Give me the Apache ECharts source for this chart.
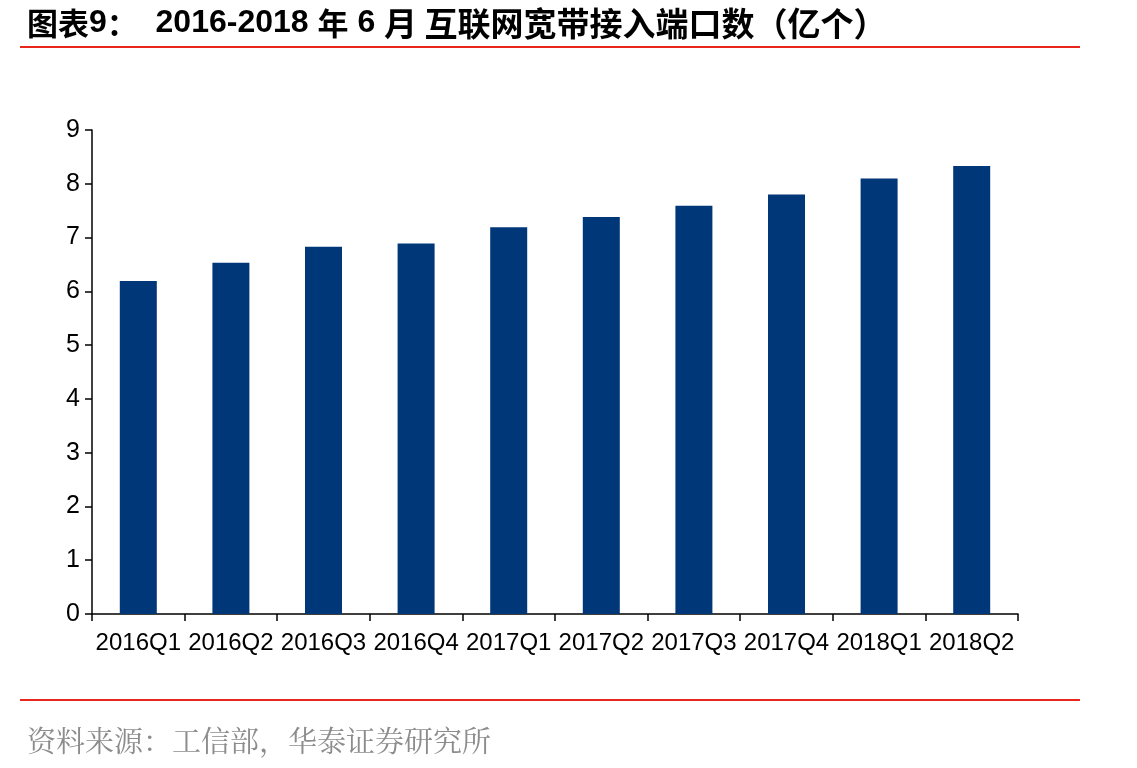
<!DOCTYPE html>
<html><head><meta charset="utf-8">
<script src="https://cdn.jsdelivr.net/npm/echarts@6/dist/echarts.min.js"></script>
<style>html,body{margin:0;padding:0;background:#fff}#c{width:1137px;height:768px}</style>
</head><body><div id="c"></div>
<script>
const categories = ['2016Q1','2016Q2','2016Q3','2016Q4','2017Q1','2017Q2','2017Q3','2017Q4','2018Q1','2018Q2'];
const ports = [6.19, 6.53, 6.83, 6.89, 7.19, 7.38, 7.59, 7.80, 8.10, 8.33];
const yTicks = [0, 9, 1]; // min, max, interval
const titleRich = '{c|图表}{d|9}{c|：}{d|  2016-2018 }{c|年}{d| 6 }{e|月 互联网宽带接入端口数（亿个）}';
const sourceText = '资料来源：工信部，华泰证券研究所';

const chart = echarts.init(document.getElementById('c'), null, {renderer:'canvas'});
chart.setOption({
  backgroundColor:'#fff',
  animation:false,
  title:[
    {text:titleRich, left:22, top:1, textStyle:{
      rich:{
        c:{fontFamily:'"Noto Sans CJK SC", sans-serif', fontWeight:'bold', fontSize:31, color:'#000', lineHeight:34},
        e:{fontFamily:'"Noto Sans CJK SC", sans-serif', fontWeight:'bold', fontSize:33, color:'#000', lineHeight:34},
        d:{fontFamily:'"Liberation Sans", Arial, sans-serif', fontWeight:'bold', fontSize:32, color:'#000', lineHeight:34}
      }}},
    {text:sourceText, left:22, top:721, textStyle:{fontFamily:'"Noto Serif CJK SC","Noto Sans CJK SC", serif', fontWeight:'normal', fontSize:29, color:'#8c8c8c'}}
  ],
  graphic:[
    {type:'line', shape:{x1:20,y1:47,x2:1080,y2:47}, style:{stroke:'#e8261c', lineWidth:2}},
    {type:'line', shape:{x1:20,y1:700,x2:1080,y2:700}, style:{stroke:'#e8261c', lineWidth:2}}
  ],
  grid:{left:92, right:119, top:130, bottom:154, containLabel:false},
  xAxis:{
    type:'category', data:categories,
    axisLine:{lineStyle:{color:'#000', width:1.5}},
    axisTick:{show:true, inside:false, length:7, alignWithLabel:false, lineStyle:{color:'#000', width:1.5}},
    axisLabel:{color:'#000', fontSize:24, fontFamily:'"Liberation Sans", Arial, sans-serif', margin:17, interval:0}
  },
  yAxis:{
    type:'value', min:yTicks[0], max:yTicks[1], interval:yTicks[2],
    axisLine:{show:true, lineStyle:{color:'#000', width:1.5}},
    axisTick:{show:true, length:7, lineStyle:{color:'#000', width:1.5}},
    splitLine:{show:false},
    axisLabel:{color:'#000', fontSize:25, fontFamily:'"Liberation Sans", Arial, sans-serif', margin:12}
  },
  series:[{
    type:'bar', data:ports, barWidth:37,
    itemStyle:{color:'#003778'}
  }]
});
</script></body></html>
